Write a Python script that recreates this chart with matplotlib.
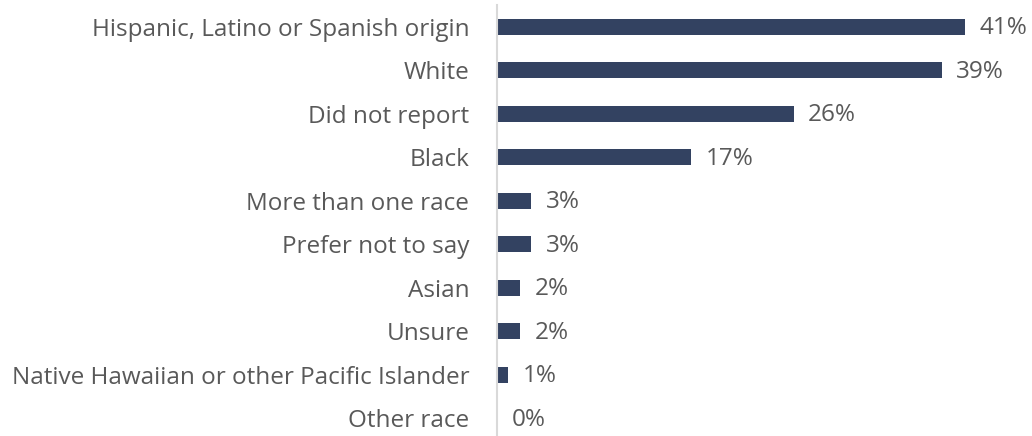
import matplotlib
matplotlib.use("Agg")
import matplotlib.pyplot as plt

categories = [
    "Hispanic, Latino or Spanish origin",
    "White",
    "Did not report",
    "Black",
    "More than one race",
    "Prefer not to say",
    "Asian",
    "Unsure",
    "Native Hawaiian or other Pacific Islander",
    "Other race",
]
values = [41, 39, 26, 17, 3, 3, 2, 2, 1, 0]

BAR_COLOR = "#334261"
TEXT_COLOR = "#595959"
AXIS_COLOR = "#D9D9D9"

plt.rcParams["font.family"] = ["Open Sans", "DejaVu Sans"]
FS = 17.5

W, H = 1032, 436
fig = plt.figure(figsize=(W / 100, H / 100), dpi=100)
left_px, top_px, bottom_px = 497, 5, 440
ax = fig.add_axes([left_px / W, (H - bottom_px) / H, 495 / W, (bottom_px - top_px) / H])

pos = list(range(len(categories)))
ax.barh(pos, values, height=0.36, color=BAR_COLOR, edgecolor="none")
ax.set_ylim(len(categories) - 0.5, -0.5)
ax.set_xlim(0, 43.4)

ax.set_yticks(pos)
ax.set_yticklabels(categories, fontsize=FS, color=TEXT_COLOR)
ax.tick_params(axis="y", length=0, pad=20)
ax.set_xticks([])

for side in ("top", "right", "bottom"):
    ax.spines[side].set_visible(False)
ax.spines["left"].set_color(AXIS_COLOR)
ax.spines["left"].set_linewidth(1.5)

for y, v in zip(pos, values):
    ax.annotate(f"{v}%", xy=(v, y), xytext=(10.5, -1), textcoords="offset points",
                ha="left", va="center", fontsize=FS, color=TEXT_COLOR,
                annotation_clip=False)

fig.savefig("out.png", dpi=100)
